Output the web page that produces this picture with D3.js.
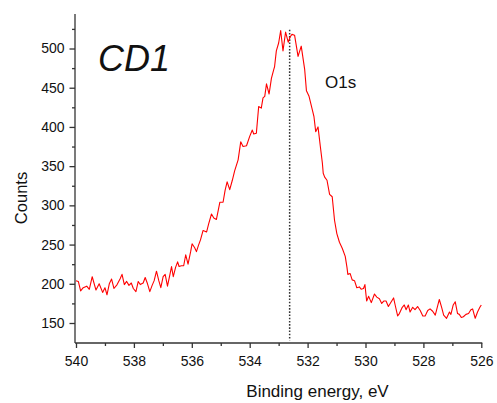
<!DOCTYPE html>
<html>
<head>
<meta charset="utf-8">
<script src="https://cdn.jsdelivr.net/npm/d3@7"></script>
<style>
  body { margin: 0; background: #fff; }
  text { font-family: Arial, "Liberation Sans", sans-serif; fill: #111; }
  .axis path, .axis line { stroke: #333; stroke-width: 1.3; }
  .axis text { font-size: 14px; }
</style>
</head>
<body>
<svg id="chart"></svg>
<script>
/* O1s spectrum */
const energy = [
  540.00, 539.92, 539.84, 539.75, 539.63, 539.54, 539.44, 539.31, 539.20, 539.08,
  539.00, 538.93, 538.85, 538.77, 538.69, 538.58, 538.48, 538.41, 538.33, 538.25,
  538.17, 538.09, 538.02, 537.93, 537.85, 537.78, 537.68, 537.61, 537.53, 537.45,
  537.37, 537.30, 537.22, 537.14, 537.07, 536.99, 536.92, 536.84, 536.76, 536.70,
  536.64, 536.56, 536.49, 536.44, 536.36, 536.28, 536.21, 536.13, 536.04, 535.99,
  535.90, 535.84, 535.77, 535.70, 535.61, 535.49, 535.42, 535.32, 535.24, 535.15,
  535.08, 535.03, 534.92, 534.85, 534.78, 534.69, 534.60, 534.52, 534.40, 534.31,
  534.23, 534.11, 534.00, 533.91, 533.86, 533.77, 533.69, 533.60, 533.54, 533.48,
  533.42, 533.33, 533.25, 533.17, 533.14, 533.08, 533.00, 532.93, 532.85, 532.76,
  532.67, 532.60, 532.54, 532.45, 532.33, 532.22, 532.10, 532.04, 531.95, 531.87,
  531.78, 531.72, 531.64, 531.56, 531.49, 531.46, 531.41, 531.33, 531.24, 531.15,
  531.07, 530.99, 530.90, 530.80, 530.70, 530.64, 530.61, 530.53, 530.46, 530.38,
  530.30, 530.21, 530.15, 530.07, 530.02, 529.96, 529.89, 529.80, 529.69, 529.61,
  529.52, 529.44, 529.37, 529.29, 529.21, 529.11, 529.03, 528.97, 528.89, 528.83,
  528.73, 528.66, 528.60, 528.52, 528.46, 528.37, 528.29, 528.20, 528.11, 528.02,
  527.94, 527.85, 527.77, 527.68, 527.59, 527.45, 527.37, 527.30, 527.20, 527.10,
  527.05, 526.97, 526.90, 526.82, 526.76, 526.69, 526.62, 526.53, 526.44, 526.36,
  526.30, 526.21, 526.13, 526.05, 526.00
];
const counts = [
  204, 203, 191, 195, 197, 193, 209, 192, 200, 189,
  195, 186, 200, 206, 194, 199, 206, 212, 199, 203,
  198, 201, 194, 190, 203, 199, 201, 208, 200, 190,
  198, 204, 216, 204, 195, 209, 212, 197, 211, 222,
  209, 221, 228, 222, 223, 223, 237, 225, 241, 251,
  246, 241, 249, 256, 268, 266, 276, 289, 284, 282,
  295, 304, 304, 319, 330, 320, 332, 344, 358, 381,
  375, 376, 388, 396, 391, 392, 426, 424, 437, 439,
  455, 442, 462, 473, 477, 497, 507, 523, 497, 521,
  508, 515, 518, 517, 490, 503, 473, 446, 439, 427,
  413, 394, 400, 375, 354, 341, 336, 332, 314, 311,
  281, 264, 253, 245, 235, 221, 212, 213, 205, 204,
  195, 196, 193, 194, 199, 178, 184, 176, 187, 183,
  181, 175, 178, 178, 171, 177, 182, 172, 159, 162,
  170, 173, 167, 173, 164, 170, 167, 171, 166, 159,
  159, 166, 168, 165, 160, 180, 170, 160, 156, 164,
  161, 173, 177, 162, 161, 157, 158, 161, 162, 167,
  168, 156, 164, 170, 173
];

const xMajorTicks = [540, 538, 536, 534, 532, 530, 528, 526];
const xMinorTicks = [539, 537, 535, 533, 531, 529, 527];
const yMajorTicks = [150, 200, 250, 300, 350, 400, 450, 500];
const yMinorTicks = [175, 225, 275, 325, 375, 425, 475, 525];

const peakPosition = 532.62;
const peakLineRange = [128, 524];
const sampleLabel = 'CD1';
const peakLabel = 'O1s';

const W = 497, H = 403;
const margin = { top: 14, right: 14.7, bottom: 60, left: 75 };
const width = W - margin.left - margin.right;
const height = H - margin.top - margin.bottom;

const svg = d3.select('#chart').attr('width', W).attr('height', H);
const g = svg.append('g').attr('transform', `translate(${margin.left},${margin.top})`);

const x = d3.scaleLinear().domain([540, 526]).range([1, width - 1]);
const y = d3.scaleLinear().domain([124.5, 544]).range([height, 0]);

// minor ticks first so the major ones sit on top
g.append('g')
  .attr('class', 'axis')
  .attr('transform', `translate(0,${height})`)
  .call(d3.axisBottom(x).tickValues(xMinorTicks).tickSize(3).tickFormat(''))
  .call(s => s.select('.domain').remove());

g.append('g')
  .attr('class', 'axis axis--x')
  .attr('transform', `translate(0,${height})`)
  .call(d3.axisBottom(x).tickValues(xMajorTicks).tickSize(5).tickSizeOuter(0).tickPadding(8).tickFormat(d3.format('d')))
  .call(s => s.select('.domain').attr('d', `M0,0H${width}`));

g.append('g')
  .attr('class', 'axis')
  .call(d3.axisLeft(y).tickValues(yMinorTicks).tickSize(3).tickFormat(''))
  .call(s => s.select('.domain').remove());

g.append('g')
  .attr('class', 'axis axis--y')
  .call(d3.axisLeft(y).tickValues(yMajorTicks).tickSize(5.5).tickPadding(5).tickFormat(d3.format('d')))
  .call(s => s.select('.domain').attr('d', `M0,0V${height}`));

// dotted marker at the peak maximum
g.append('line')
  .attr('x1', x(peakPosition)).attr('x2', x(peakPosition))
  .attr('y1', y(peakLineRange[1])).attr('y2', y(peakLineRange[0]))
  .attr('stroke', '#333')
  .attr('stroke-width', 1.5)
  .attr('stroke-dasharray', '1.6,1.6');

const line = d3.line()
  .x((d, i) => x(energy[i]))
  .y(d => y(d));

g.append('path')
  .datum(counts)
  .attr('fill', 'none')
  .attr('stroke', '#ff0000')
  .attr('stroke-width', 1.1)
  .attr('stroke-linejoin', 'round')
  .attr('d', line);

// labels
svg.append('text')
  .attr('x', 98).attr('y', 70.5)
  .attr('font-size', '36px')
  .attr('font-style', 'italic')
  .text(sampleLabel);

svg.append('text')
  .attr('x', 325).attr('y', 88.3)
  .attr('font-size', '17px')
  .text(peakLabel);

svg.append('text')
  .attr('x', 317.5)
  .attr('y', 396.5)
  .attr('text-anchor', 'middle')
  .attr('font-size', '17px')
  .text('Binding energy, eV');

svg.append('text')
  .attr('transform', `translate(27,198) rotate(-90)`)
  .attr('text-anchor', 'middle')
  .attr('font-size', '16.5px')
  .text('Counts');
</script>
</body>
</html>
